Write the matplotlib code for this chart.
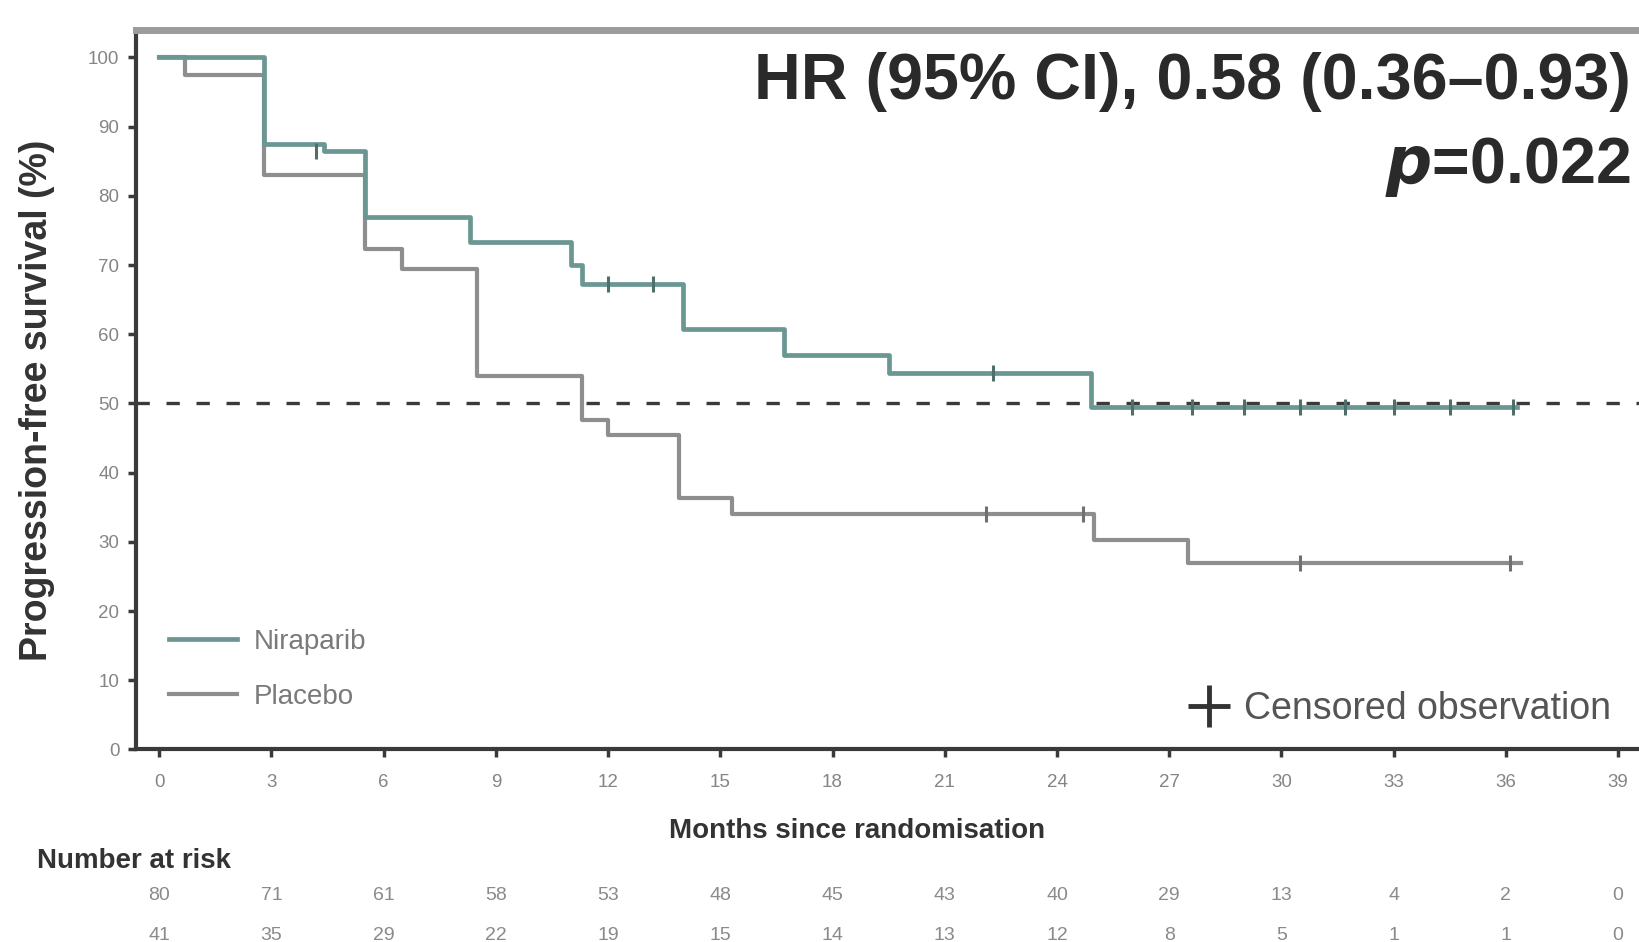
import matplotlib
matplotlib.use("Agg")
import matplotlib.pyplot as plt
from matplotlib.lines import Line2D
from matplotlib.transforms import blended_transform_factory

plt.rcParams["font.family"] = ["Liberation Sans", "DejaVu Sans"]

# Kaplan-Meier step data (months, % progression-free)
nira_t = [0, 2.8, 4.4, 5.5, 8.3, 11.0, 11.3, 14.0, 16.7, 19.5, 24.9, 36.3]
nira_s = [100, 87.5, 86.5, 77.0, 73.3, 70.0, 67.2, 60.8, 57.0, 54.4, 49.5, 49.5]
plac_t = [0, 0.7, 2.8, 5.5, 6.5, 8.5, 11.3, 12.0, 13.9, 15.3, 25.0, 27.5, 36.4]
plac_s = [100, 97.5, 83.0, 72.3, 69.4, 54.0, 47.6, 45.5, 36.4, 34.0, 30.3, 26.9, 26.9]

# censored observations
nira_cens_t = [4.2, 12.0, 13.2, 22.3, 26.0, 27.6, 29.0, 30.5, 31.7, 33.0, 34.5, 36.2]
nira_cens_s = [86.5, 67.2, 67.2, 54.4, 49.5, 49.5, 49.5, 49.5, 49.5, 49.5, 49.5, 49.5]
plac_cens_t = [22.1, 24.7, 30.5, 36.1]
plac_cens_s = [34.0, 34.0, 26.9, 26.9]

x_ticks = [0, 3, 6, 9, 12, 15, 18, 21, 24, 27, 30, 33, 36, 39]
y_ticks = [0, 10, 20, 30, 40, 50, 60, 70, 80, 90, 100]
risk_nira = [80, 71, 61, 58, 53, 48, 45, 43, 40, 29, 13, 4, 2, 0]
risk_plac = [41, 35, 29, 22, 19, 15, 14, 13, 12, 8, 5, 1, 1, 0]

NIRA_C = "#6a9792"
PLAC_C = "#8e8e8e"
DARK = "#3a3a3a"

fig = plt.figure(figsize=(16.39, 9.42), dpi=100)
ax = fig.add_axes([0.0830, 0.2044, 0.9499, 0.7640])
ax.set_xlim(-0.62, 41.0)
ax.set_ylim(0, 104)

ax.step(nira_t, nira_s, where="post", color=NIRA_C, lw=3.4, zorder=4)
ax.step(plac_t, plac_s, where="post", color=PLAC_C, lw=3.0, zorder=3)
ax.plot(nira_cens_t, nira_cens_s, ls="none", marker="|", ms=11, mew=2.2,
        color="#4f6f6b", zorder=5)
ax.plot(plac_cens_t, plac_cens_s, ls="none", marker="|", ms=11, mew=2.2,
        color="#707070", zorder=5)

# median reference line
ax.axhline(50, color=DARK, lw=2.4, ls=(0, (4.0, 5.0)), zorder=2)

for side in ("left", "bottom"):
    ax.spines[side].set_color(DARK)
    ax.spines[side].set_linewidth(3.0)
ax.spines["top"].set_color("#9c9c9c")
ax.spines["top"].set_linewidth(5.0)
ax.spines["right"].set_visible(False)

ax.set_xticks(x_ticks)
ax.set_yticks(y_ticks)
ax.tick_params(axis="both", colors=DARK, labelcolor="#858585", labelsize=13.5,
               length=6, width=2.5, direction="out")
ax.tick_params(axis="x", pad=12)
ax.tick_params(axis="y", pad=6)

ax.set_ylabel("Progression-free survival (%)", fontsize=27, fontweight="bold",
              color="#333333")
ax.yaxis.set_label_coords(-0.052, 0.485)
fig.text(857 / 1639, 1 - 831 / 942, "Months since randomisation", fontsize=20,
         fontweight="bold", color="#333333", ha="center", va="center")

# annotations
fig.text(1631 / 1639, 1 - 99 / 942, "HR (95% CI), 0.58 (0.36\u20130.93)",
         fontsize=46.5, fontweight="bold", color="#2a2a2a", ha="right", va="baseline")
fig.text(1631 / 1639, 1 - 183 / 942, r"$\boldsymbol{p}$=0.022", fontsize=46.5,
         fontweight="bold", color="#2a2a2a", ha="right", va="baseline")

# arm legend
handles = [Line2D([], [], color=NIRA_C, lw=3.4), Line2D([], [], color=PLAC_C, lw=3.0)]
ax.legend(handles, ["Niraparib", "Placebo"], loc="center left",
          bbox_to_anchor=(0.25, 11.6), bbox_transform=ax.transData,
          frameon=False, fontsize=20, handlelength=2.45, handletextpad=0.6,
          labelspacing=1.05, labelcolor="#7a7a7a", borderpad=0, borderaxespad=0)
leg1 = ax.get_legend()
ax.add_artist(leg1)

cens = Line2D([], [], ls="none", marker="+", ms=30, mew=3.5, color="#333333")
ax.legend([cens], ["Censored observation"], loc="center left",
          bbox_to_anchor=(27.55, 5.8), bbox_transform=ax.transData,
          frameon=False, fontsize=27, handlelength=1.0, handletextpad=0.45,
          labelcolor="#555555", borderpad=0, borderaxespad=0)

# number at risk table
fig.text(37 / 1639, 1 - 861 / 942, "Number at risk", fontsize=20,
         fontweight="bold", color="#333333", ha="left", va="center")
tr = blended_transform_factory(ax.transData, fig.transFigure)
for xv, a, b in zip(x_ticks, risk_nira, risk_plac):
    ax.text(xv, 1 - 895 / 942, str(a), transform=tr, ha="center", va="center",
            fontsize=14, color="#8a8a8a", clip_on=False)
    ax.text(xv, 1 - 936 / 942, str(b), transform=tr, ha="center", va="center",
            fontsize=14, color="#8a8a8a", clip_on=False)

fig.savefig("out.png", dpi=100)
